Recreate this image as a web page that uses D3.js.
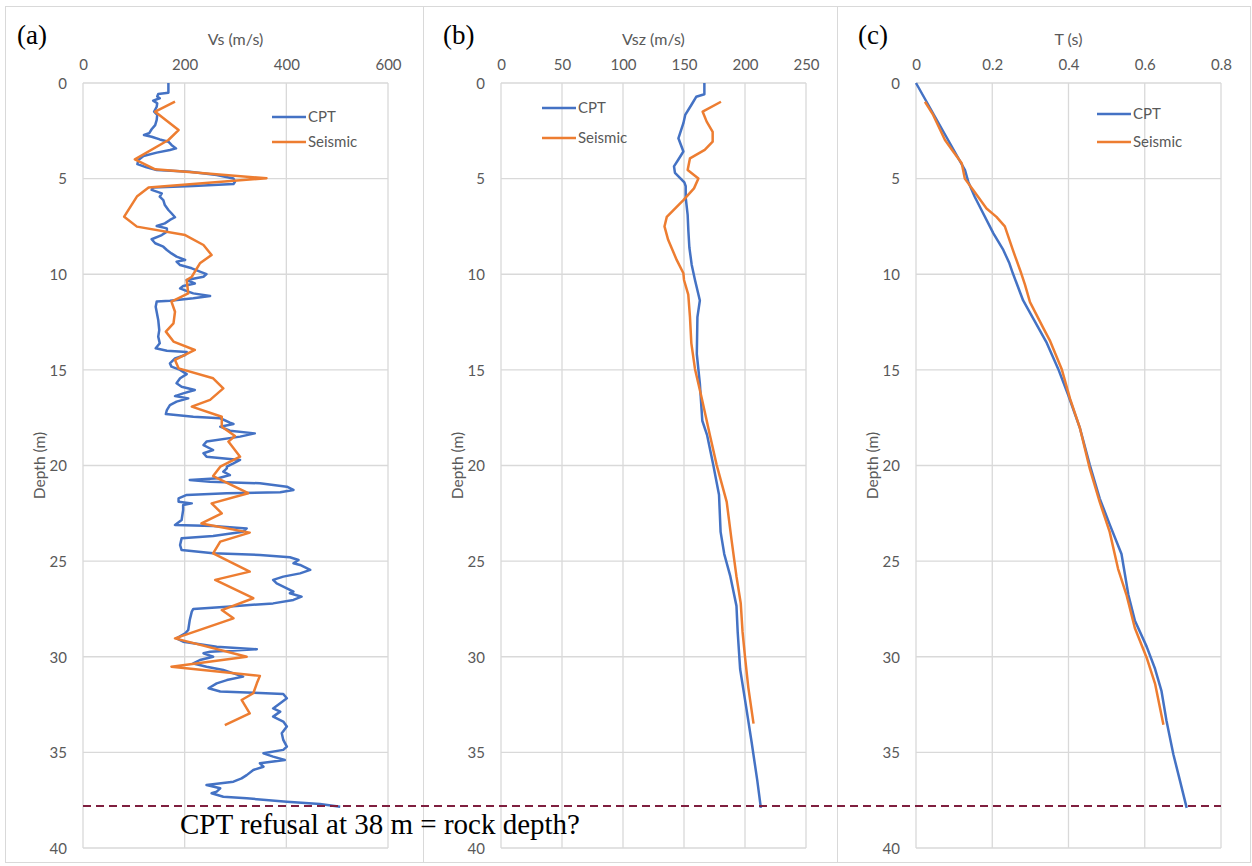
<!DOCTYPE html>
<html>
<head>
<meta charset="utf-8">
<script src="https://cdn.jsdelivr.net/npm/d3@7"></script>
<style>
  body { margin: 0; background: #fff; }
  text { font-family: Lato, "Open Sans", sans-serif; fill: #595959; }
</style>
</head>
<body>
<svg id="chart" width="1252" height="866"></svg>
<script>
// [depth (m), value]
var cptVs = [[0,168],[0.51,168],[0.58,148],[0.71,146],[0.8,151],[0.92,138],[1.06,146],[1.24,145],[1.5,140],[1.67,146],[1.93,145],[2.2,142],[2.42,135],[2.63,130],[2.72,120],[2.81,135],[2.95,151],[3.07,168],[3.24,174],[3.42,183],[3.5,171],[3.64,145],[3.82,119],[4.03,109],[4.24,107],[4.41,125],[4.55,145],[4.64,210],[4.81,263],[4.99,296],[5.16,299],[5.28,296],[5.39,217],[5.46,138],[5.59,135],[5.77,155],[5.94,151],[6.12,158],[6.38,161],[6.64,168],[6.81,174],[7.02,181],[7.16,171],[7.34,161],[7.48,145],[7.6,165],[7.77,165],[7.95,155],[8.17,135],[8.38,142],[8.56,158],[8.73,165],[8.91,174],[9.08,184],[9.25,201],[9.34,184],[9.52,191],[9.69,214],[9.86,230],[9.99,243],
  [10.13,237],[10.3,204],[10.48,220],[10.61,197],[10.74,191],[10.91,207],[11.0,217],[11.14,250],[11.26,217],[11.38,171],[11.43,145],[11.7,143],[12.39,148],[12.92,150],[13.26,148],[13.61,151],[13.87,143],[14.0,165],[14.07,204],[14.22,201],[14.4,181],[14.66,171],[14.83,174],[15.0,191],[15.22,204],[15.44,191],[15.7,184],[15.88,194],[16.05,220],[16.23,197],[16.37,181],[16.49,207],[16.66,184],[16.84,171],[17.1,165],[17.31,163],[17.45,217],[17.53,270],[17.76,289],[17.83,296],[17.97,270],[18.18,289],[18.32,338],[18.49,309],[18.75,243],[18.93,237],[19.19,256],[19.36,237],[19.54,243],[19.71,309],[19.89,296],[20.06,283],
  [20.15,283],[20.32,276],[20.5,289],[20.67,266],[20.76,210],[20.85,250],[20.93,348],[21.11,401],[21.28,414],[21.4,388],[21.45,283],[21.54,204],[21.72,188],[21.89,188],[21.98,214],[22.06,197],[22.33,197],[22.85,194],[23.11,181],[23.16,256],[23.29,322],[23.46,315],[23.69,256],[23.81,194],[24.16,191],[24.42,194],[24.59,256],[24.68,348],[24.8,407],[24.94,424],[25.11,414],[25.2,427],[25.46,447],[25.64,427],[25.81,394],[25.98,374],[26.16,381],[26.42,401],[26.6,414],[26.68,407],[26.86,430],[27.03,414],[27.21,374],[27.38,283],[27.5,217],[27.64,214],[28.08,210],[28.6,207],[28.78,201],[29.04,184],[29.21,197],[29.48,263],[29.61,342],[29.74,250],
  [29.82,237],[30.0,256],[30.17,230],[30.35,217],[30.52,243],[30.69,276],[30.87,296],[31.04,315],[31.22,283],[31.39,263],[31.65,247],[31.82,270],[31.88,335],[31.95,394],[32.17,401],[32.43,388],[32.7,374],[32.87,388],[33.13,374],[33.39,394],[33.65,401],[34.0,391],[34.35,394],[34.7,401],[34.87,394],[35.05,355],[35.22,374],[35.4,397],[35.57,348],[35.75,355],[35.92,335],[36.19,322],[36.36,312],[36.53,296],[36.71,243],[36.88,270],[37.05,263],[37.14,253],[37.32,276],[37.4,322],[37.58,401],[37.7,466],[37.84,506]];

var seisVs = [[0.98,181],[1.5,142],[2.46,188],[2.98,168],[3.99,102],[4.51,142],[4.98,361],[5.46,129],[5.94,106],[6.99,81],[7.51,106],[7.95,201],[8.47,237],[8.99,253],[9.43,230],[10.13,214],[10.3,204],[11.0,207],[11.43,174],[11.96,181],[12.57,178],[13.0,163],[13.52,178],[13.96,220],[14.48,181],[14.92,188],[15.44,256],[15.97,276],[16.57,250],[16.92,214],[17.45,273],[17.97,273],[18.46,299],[18.75,286],[19.54,309],[20.06,270],[20.55,256],[21.45,325],[21.98,253],[22.5,273],[23.03,233],[23.51,328],[23.98,270],[24.59,256],[25.55,328],[25.98,260],[26.94,335],[27.56,273],[27.99,296],[29.04,181],[30.0,322],[30.52,174],[31.0,348],[31.39,342],[31.91,335],[32.26,312],[32.96,328],[33.57,279]];

var cptVsz = [[0,166.7],[0.59,166.7],[0.72,160],[1.15,156],[1.67,151],[2.1,149.5],[2.89,145.4],[3.58,149.5],[4.0,145.4],[4.36,141.8],[4.7,142.6],[5.2,150.3],[5.4,151.4],[6.0,151.4],[6.9,153],[7.75,153.6],[8.6,154.4],[9.5,156.3],[10.3,159],[11.37,163],[12.24,161],[14.17,160.5],[15.72,163],[17.66,165],[18.43,169],[19.98,174],[21.53,178.7],[23.47,180],[24.63,183],[25.8,188],[27.34,193],[28.7,194],[30.64,196],[32.57,200.8],[34.5,205.5],[36.44,210],[37.9,213]];

var seisVsz = [[0.98,180.3],[1.5,165.3],[2.02,168.6],[2.55,173.5],[3.07,173.5],[3.5,167],[3.94,154.9],[4.55,153],[4.99,161.8],[5.51,158.2],[6.12,149.5],[7.0,135.9],[7.5,134],[8.2,137],[9.25,144],[9.95,149.5],[10.3,150],[11.07,153.5],[12.24,154.9],[13.6,156],[14.95,159],[16.5,164.6],[18.43,171.3],[19.98,176.8],[21.9,185],[23.9,189],[25.8,193],[27.2,196.5],[28.7,198],[30.0,200],[31.6,202.7],[33.5,207]];

var cptT = [[0,0],[3.15,0.089],[4.55,0.1285],[5.16,0.137],[5.95,0.154],[7.86,0.203],[8.73,0.229],[9.43,0.245],[9.95,0.254],[11.37,0.281],[12.33,0.308],[13.59,0.343],[14.95,0.373],[16.3,0.399],[18.05,0.43],[19.98,0.456],[21.73,0.482],[23.08,0.508],[24.63,0.539],[26.76,0.557],[28.1,0.574],[29.47,0.605],[30.63,0.627],[31.8,0.644],[33.35,0.657],[35.1,0.675],[36.45,0.692],[37.9,0.71]];

var seisT = [[0.98,0.0236],[1.67,0.045],[2.98,0.076],[3.59,0.098],[4.2,0.12],[5.0,0.128],[5.6,0.15],[6.56,0.185],[7.0,0.211],[7.5,0.233],[8.73,0.254],[9.95,0.276],[10.56,0.286],[11.46,0.299],[12.82,0.334],[13.5,0.352],[14.95,0.382],[16.5,0.404],[18.05,0.43],[20.18,0.456],[21.92,0.482],[23.47,0.508],[25.4,0.53],[26.76,0.552],[28.5,0.574],[30.05,0.605],[31.4,0.627],[33.55,0.649]];

var depthTicks = [0, 5, 10, 15, 20, 25, 30, 35, 40];
var seriesNames = ["CPT", "Seismic"];
var refusalDepth = 37.8;
var noteText = "CPT refusal at 38 m = rock depth?";

var colors = ["#4472C4", "#ED7D31"];
var plotTop = 83, plotH = 765, plotW = 305;

var panels = [
  {tag: "(a)", title: "Vs (m/s)", left: 83, xmax: 600, ticks: [0, 200, 400, 600], fmt: d3.format("d"),
   data: [cptVs, seisVs], box: [5, 423], tagX: 17, leg: [272, 117, 25]},
  {tag: "(b)", title: "Vsz (m/s)", left: 501, xmax: 250, ticks: [0, 50, 100, 150, 200, 250], fmt: d3.format("d"),
   data: [cptVsz, seisVsz], box: [423, 837], tagX: 443, leg: [542, 108, 30]},
  {tag: "(c)", title: "T (s)", left: 916, xmax: 0.8, ticks: [0, 0.2, 0.4, 0.6, 0.8], fmt: function(d) { return d === 0 ? "0" : d3.format(".1f")(d); },
   data: [cptT, seisT], box: [837, 1250], tagX: 858, leg: [1097, 114, 28]}
];

var svg = d3.select("#chart");

var y = d3.scaleLinear().domain([0, 40]).range([plotTop, plotTop + plotH]);

panels.forEach(function(p) {
  svg.append("rect")
    .attr("x", p.box[0] + 0.5).attr("y", 6.5)
    .attr("width", p.box[1] - p.box[0]).attr("height", 856)
    .attr("fill", "none").attr("stroke", "#D9D9D9").attr("stroke-width", 1);

  var x = d3.scaleLinear().domain([0, p.xmax]).range([p.left, p.left + plotW]);
  var g = svg.append("g");

  // grid
  g.selectAll(".vg").data(p.ticks).enter().append("line")
    .attr("x1", function(d) { return x(d); }).attr("x2", function(d) { return x(d); })
    .attr("y1", plotTop).attr("y2", plotTop + plotH)
    .attr("stroke", "#D9D9D9").attr("stroke-width", 1.3);
  g.selectAll(".hg").data(depthTicks).enter().append("line")
    .attr("x1", p.left).attr("x2", p.left + plotW)
    .attr("y1", function(d) { return y(d); }).attr("y2", function(d) { return y(d); })
    .attr("stroke", "#D9D9D9").attr("stroke-width", 1.3);

  // axes via d3, domain/ticks hidden, only labels kept
  var top = g.append("g").attr("transform", "translate(0," + (plotTop - 12) + ")")
    .call(d3.axisTop(x).tickValues(p.ticks).tickFormat(p.fmt).tickSize(0));
  var left = g.append("g").attr("transform", "translate(" + (p.left - 13) + ",0)")
    .call(d3.axisLeft(y).tickValues(depthTicks).tickSize(0));
  [top, left].forEach(function(a) {
    a.select(".domain").remove();
    a.selectAll("text").style("font-family", "Lato, 'Open Sans', sans-serif")
      .style("font-size", "15px").attr("fill", "#595959");
  });
  left.selectAll("text").attr("dy", "0.35em");
  top.selectAll("text").attr("dy", "0.1em");

  g.append("text").attr("x", p.left + plotW / 2).attr("y", 45)
    .attr("text-anchor", "middle").style("font-size", "16px").text(p.title);
  g.append("text").attr("transform", "translate(" + (p.left - 38) + "," + (plotTop + plotH / 2) + ") rotate(-90)")
    .attr("text-anchor", "middle").style("font-size", "15.5px").text("Depth (m)");
  g.append("text").attr("x", p.tagX).attr("y", 44)
    .style("font-family", "'Liberation Serif', 'Times New Roman', serif")
    .style("font-size", "27px").style("fill", "#000").text(p.tag);

  var line = d3.line().x(function(d) { return x(d[1]); }).y(function(d) { return y(d[0]); });
  p.data.forEach(function(s, i) {
    g.append("path").datum(s)
      .attr("fill", "none").attr("stroke", colors[i]).attr("stroke-width", 2.5)
      .attr("stroke-linejoin", "round").attr("d", line);
  });

  // legend
  seriesNames.forEach(function(n, i) {
    var ly = p.leg[1] + i * p.leg[2];
    g.append("line").attr("x1", p.leg[0]).attr("x2", p.leg[0] + 34)
      .attr("y1", ly).attr("y2", ly).attr("stroke", colors[i]).attr("stroke-width", 2.5);
    g.append("text").attr("x", p.leg[0] + 36).attr("y", ly).attr("dy", "0.35em")
      .style("font-size", "15px").text(n);
  });
});

// refusal line across panels
svg.append("line")
  .attr("x1", 83).attr("x2", 1221)
  .attr("y1", y(refusalDepth)).attr("y2", y(refusalDepth))
  .attr("stroke", "#7F1F3F").attr("stroke-width", 2).attr("stroke-dasharray", "8,5");

svg.append("text").attr("x", 180).attr("y", 834)
  .style("font-family", "'Liberation Serif', 'Times New Roman', serif")
  .style("font-size", "29px").style("fill", "#000").text(noteText);
</script>
</body>
</html>
